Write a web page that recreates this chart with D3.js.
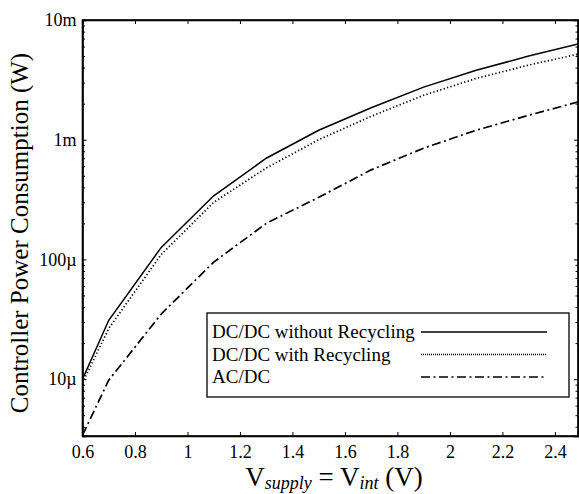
<!DOCTYPE html>
<html>
<head>
<meta charset="utf-8">
<script src="https://cdn.jsdelivr.net/npm/d3@7"></script>
<style>
  body { margin: 0; background: #fff; }
  svg text { font-family: "Liberation Serif", "Times New Roman", Times, serif; fill: #000; }
  .axis path, .axis line { stroke: #000; }
</style>
</head>
<body>
<script>
// supply voltage points (V)
const voltages = [0.6, 0.7, 0.9, 1.1, 1.3, 1.5, 1.7, 1.9, 2.1, 2.3, 2.5];
// controller power (W)
const dcdcNoRecycling = [1.0e-5, 3.1e-5, 1.26e-4, 3.4e-4, 7.0e-4, 1.2e-3, 1.85e-3, 2.75e-3, 3.8e-3, 5.0e-3, 6.4e-3];
const dcdcRecycling   = [9.3e-6, 2.65e-5, 1.1e-4, 3.0e-4, 5.8e-4, 1.0e-3, 1.57e-3, 2.35e-3, 3.25e-3, 4.2e-3, 5.25e-3];
const acdc            = [3.4e-6, 9.8e-6, 3.5e-5, 9.5e-5, 2.0e-4, 3.3e-4, 5.6e-4, 8.5e-4, 1.2e-3, 1.6e-3, 2.1e-3];

const seriesNames = ["DC/DC without Recycling", "DC/DC with Recycling", "AC/DC"];
const xTicks = [0.6, 0.8, 1.0, 1.2, 1.4, 1.6, 1.8, 2.0, 2.2, 2.4];
const xTickLabels = ["0.6", "0.8", "1", "1.2", "1.4", "1.6", "1.8", "2", "2.2", "2.4"];
const yTicks = [1e-5, 1e-4, 1e-3, 1e-2];
const yTickLabels = ["10\u00b5", "100\u00b5", "1m", "10m"];

const serif = "'Liberation Serif', 'Times New Roman', Times, serif";
const width = 579, height = 494;
const margin = { top: 20, right: 1, bottom: 58, left: 82.5 };

const svg = d3.select("body").append("svg")
  .attr("width", width).attr("height", height)
  .attr("font-family", serif);

const x = d3.scaleLinear()
  .domain([0.6, 2.488])
  .range([margin.left, width - margin.right]);

const y = d3.scaleLog()
  .domain([3.35e-6, 1e-2])
  .range([height - margin.bottom, margin.top]);

// minor ticks 2..9 in each decade
const minorTicks = [];
for (let e = -6; e <= -3; e++) {
  for (let m = 2; m <= 9; m++) {
    const v = m * Math.pow(10, e);
    if (v >= y.domain()[0] && v <= y.domain()[1]) minorTicks.push(v);
  }
}

const plotLeft = margin.left, plotRight = width - margin.right;
const plotTop = margin.top, plotBottom = height - margin.bottom;

// clip
svg.append("clipPath").attr("id", "clip")
  .append("rect").attr("x", plotLeft).attr("y", plotTop)
  .attr("width", plotRight - plotLeft).attr("height", plotBottom - plotTop);

// lines
const line = d3.line()
  .x((d, i) => x(voltages[i]))
  .y(d => y(d));

const styles = [
  { data: dcdcNoRecycling, dash: null, w: 1.5 },
  { data: dcdcRecycling, dash: "1.3,2.3", w: 1.7 },
  { data: acdc, dash: "9,3.5,2,3.5", w: 1.7 }
];

const lines = svg.append("g").attr("clip-path", "url(#clip)");
styles.forEach(s => {
  lines.append("path")
    .attr("d", line(s.data))
    .attr("fill", "none")
    .attr("stroke", "#000")
    .attr("stroke-width", s.w)
    .attr("stroke-dasharray", s.dash);
});

// axes
const gx = svg.append("g").attr("class", "axis")
  .attr("transform", `translate(0,${plotBottom})`)
  .call(d3.axisBottom(x).tickValues(xTicks)
    .tickFormat((d, i) => xTickLabels[i]).tickSize(-4).tickPadding(9));

svg.append("g").attr("class", "axis")
  .attr("transform", `translate(0,${plotTop})`)
  .call(d3.axisTop(x).tickValues(xTicks).tickFormat("").tickSize(-4));

const gy = svg.append("g").attr("class", "axis")
  .attr("transform", `translate(${plotLeft},0)`)
  .call(d3.axisLeft(y).tickValues(yTicks)
    .tickFormat((d, i) => yTickLabels[i]).tickSize(-4).tickPadding(6));

svg.append("g").attr("class", "axis")
  .attr("transform", `translate(${plotLeft},0)`)
  .call(d3.axisLeft(y).tickValues(minorTicks).tickFormat("").tickSize(-2.5))
  .call(g => g.select(".domain").remove());

svg.append("g").attr("class", "axis")
  .attr("transform", `translate(${plotRight},0)`)
  .call(d3.axisRight(y).tickValues(yTicks).tickFormat("").tickSize(-4));

svg.append("g").attr("class", "axis")
  .attr("transform", `translate(${plotRight},0)`)
  .call(d3.axisRight(y).tickValues(minorTicks).tickFormat("").tickSize(-2.5))
  .call(g => g.select(".domain").remove());

svg.selectAll(".axis")
  .attr("font-family", serif)
  .attr("font-size", 18);
svg.selectAll(".axis .domain").attr("stroke-width", 1.6);

// frame
svg.append("rect")
  .attr("x", plotLeft).attr("y", plotTop)
  .attr("width", plotRight - plotLeft).attr("height", plotBottom - plotTop)
  .attr("fill", "none").attr("stroke", "#000").attr("stroke-width", 1.6);

// y label
svg.append("text")
  .attr("transform", `translate(28,233) rotate(-90)`)
  .attr("text-anchor", "middle")
  .attr("font-size", 25)
  .text("Controller Power Consumption (W)");

// x label
const xl = svg.append("text")
  .attr("x", 334).attr("y", 486)
  .attr("text-anchor", "middle")
  .attr("font-size", 27);
xl.append("tspan").text("V");
xl.append("tspan").attr("font-style", "italic").attr("font-size", 18).attr("dy", 3).text("supply");
xl.append("tspan").attr("dy", -3).text(" = V");
xl.append("tspan").attr("font-style", "italic").attr("font-size", 18).attr("dy", 3).text("int");
xl.append("tspan").attr("dy", -3).text(" (V)");

// legend
const legend = svg.append("g");
legend.append("rect")
  .attr("x", 207).attr("y", 313).attr("width", 362).attr("height", 84)
  .attr("fill", "#fff").attr("stroke", "#222").attr("stroke-width", 1.5);

seriesNames.forEach((name, i) => {
  const ty = 338 + i * 22.5;
  legend.append("text")
    .attr("x", 212).attr("y", ty)
    .attr("font-size", 19)
    .text(name);
  legend.append("line")
    .attr("x1", 421).attr("x2", 547)
    .attr("y1", ty - 6).attr("y2", ty - 6)
    .attr("stroke", "#000")
    .attr("stroke-width", 1.3)
    .attr("stroke-dasharray", i === 0 ? null : (i === 1 ? "1,1" : "9,3.5,2,3.5"));
});
</script>
</body>
</html>
